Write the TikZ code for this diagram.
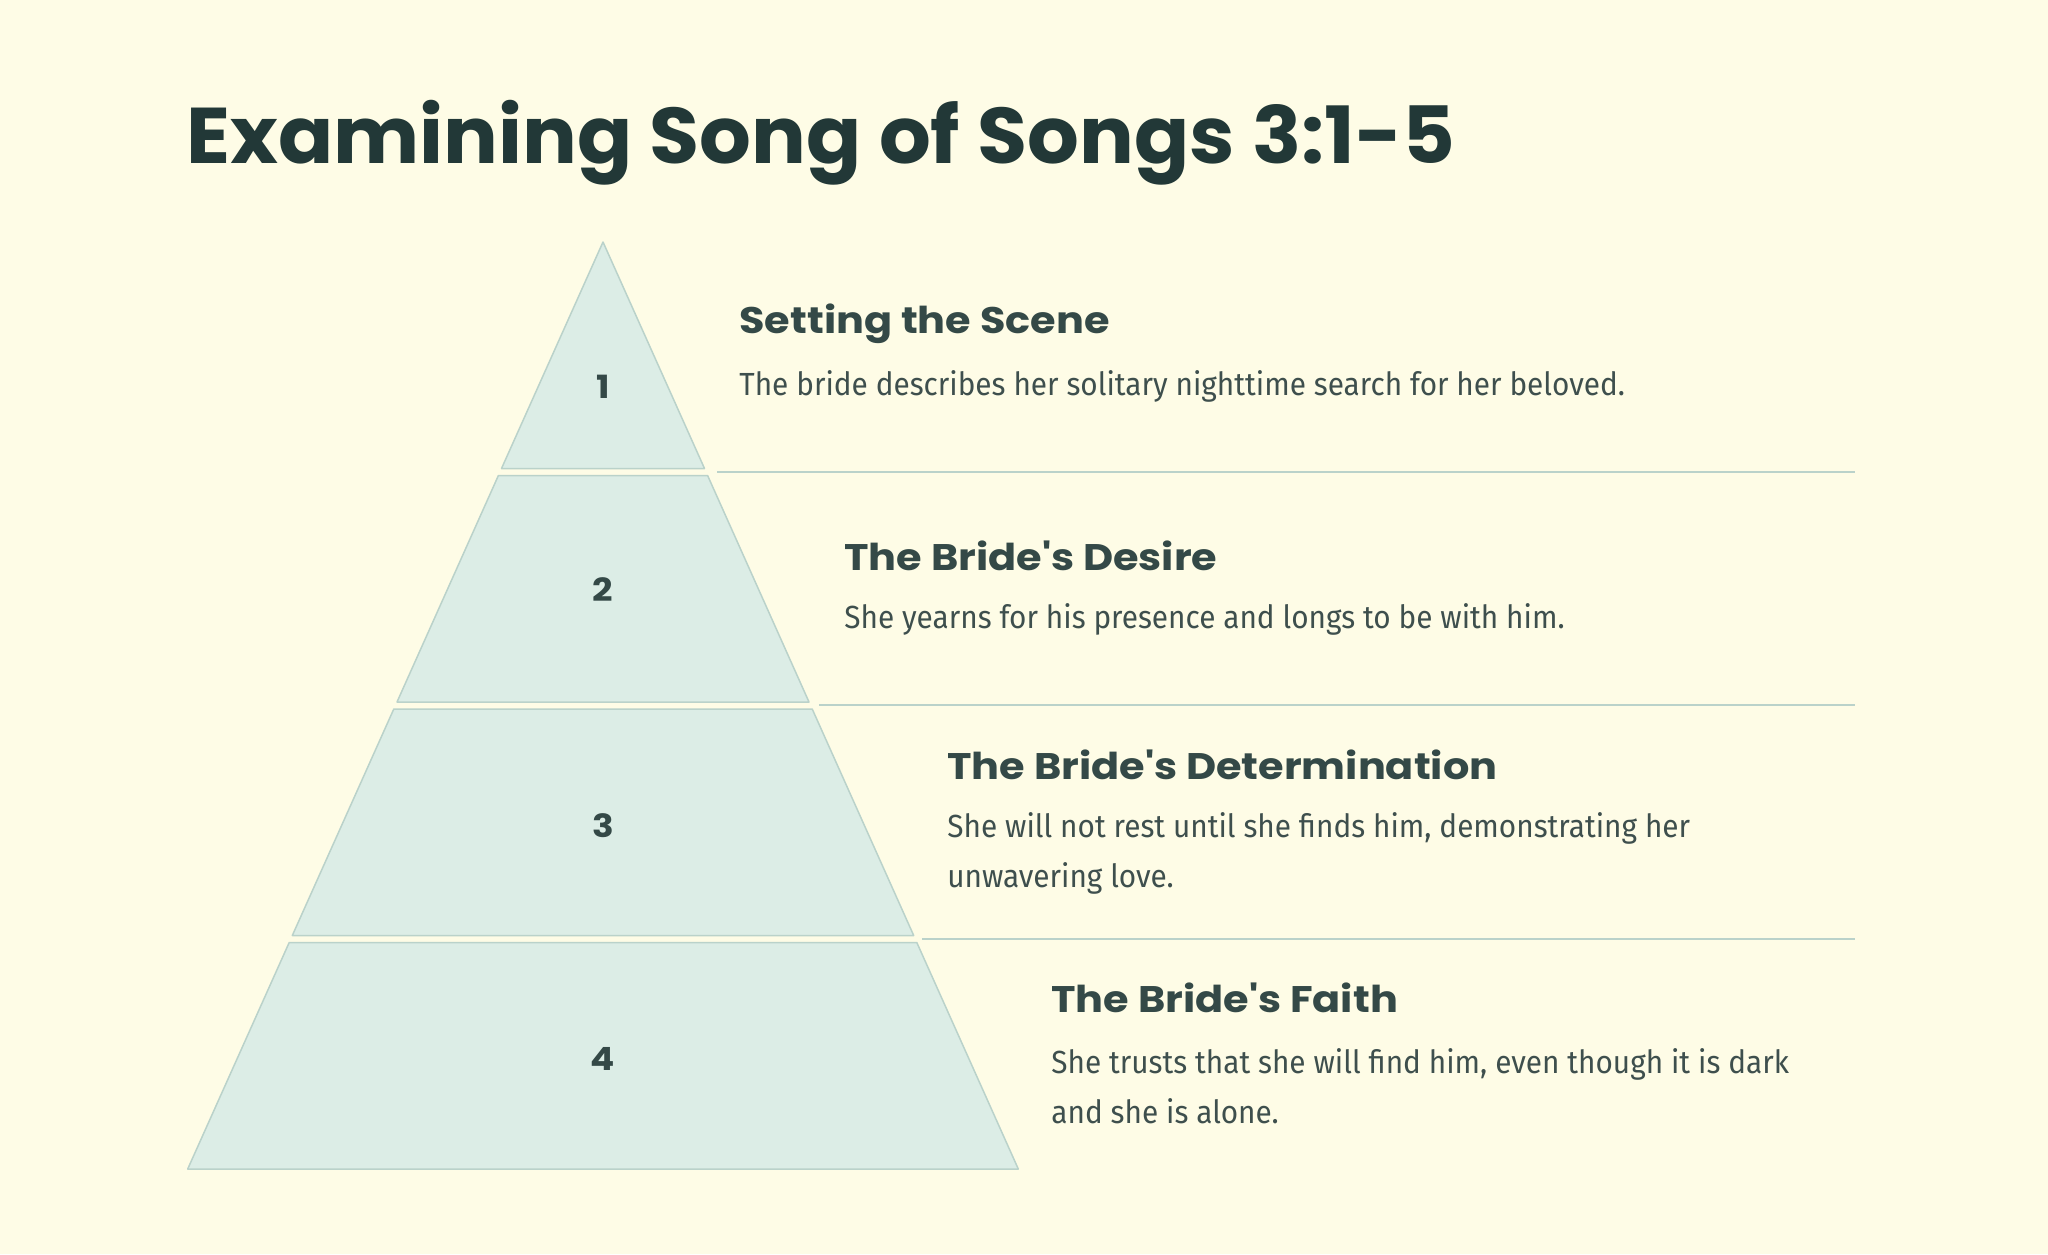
\documentclass[tikz,border=0pt]{standalone}
\usepackage{fontspec}
\usepackage{tikz}
\usetikzlibrary{positioning}
\newfontfamily\titlefont[FakeStretch=1.03]{Poppins}
\newfontfamily\headfont[FakeStretch=1.12]{Poppins}
\newfontfamily\bodyfont[FakeStretch=0.93]{Fira Sans}
\definecolor{bgcream}{HTML}{FEFCE6}
\definecolor{layerfill}{HTML}{DCEDE6}
\definecolor{layerline}{HTML}{BAD2CA}
\definecolor{inkdark}{HTML}{223837}
\definecolor{inkhead}{HTML}{344947}
\definecolor{inkbody}{HTML}{3E4F4D}

\begin{document}
\begin{tikzpicture}
    [
      x=0.5pt, y=-0.5pt,
      layer/.style={fill=layerfill,draw=layerline,line width=0.75pt,line join=round},
      rule/.style={draw=layerline,line width=1pt},
      number/.style={font=\headfont\bfseries\fontsize{16}{18}\selectfont,text=inkhead,inner sep=0pt},
      heading/.style={anchor=west,font=\headfont\bfseries\fontsize{18.5}{22}\selectfont,text=inkhead,inner sep=0pt},
      body/.style={anchor=west,align=left,font=\bodyfont\fontsize{16}{25}\selectfont,text=inkbody,inner sep=0pt},
    ]

    \fill [bgcream] (0,0) rectangle (2048,1254);
    \useasboundingbox (0,0) rectangle (2048,1254);

    \node (title) [anchor=base west,inner sep=0pt,text=inkdark,
      font=\titlefont\bfseries\fontsize{39.5}{46}\selectfont] at (186,163) {Examining Song of Songs 3:1-5};

    % pyramid layers
    \path [layer] (603,242) -- (704.5,468.5) -- (501.5,468.5) -- cycle;
    \path [layer] (498.4,475.5) -- (707.6,475.5) -- (809,702) -- (397,702) -- cycle;
    \path [layer] (393.8,709) -- (812.2,709) -- (913.7,935.5) -- (292.3,935.5) -- cycle;
    \path [layer] (289.2,942.5) -- (916.8,942.5) -- (1018.3,1169) -- (187.7,1169) -- cycle;

    \node (num-1) [number] at (603,387) {1};
    \node (num-2) [number] at (603,590) {2};
    \node (num-3) [number] at (603,826) {3};
    \node (num-4) [number] at (603,1059) {4};

    % separators
    \coordinate (rule-1-a) at (717,471.5);
    \coordinate (rule-1-b) at (1855,471.5);
    \coordinate (rule-2-a) at (819,705);
    \coordinate (rule-2-b) at (1855,705);
    \coordinate (rule-3-a) at (922,939);
    \coordinate (rule-3-b) at (1855,939);
    \draw [rule] (rule-1-a) -- (rule-1-b);
    \draw [rule] (rule-2-a) -- (rule-2-b);
    \draw [rule] (rule-3-a) -- (rule-3-b);

    \node (head-1) [heading] at (739,324) {Setting the Scene};
    \node (text-1) [body] at (739,386) {The bride describes her solitary nighttime search for her beloved.};

    \node (head-2) [heading] at (844,556) {The Bride's Desire};
    \node (text-2) [body] at (844,619) {She yearns for his presence and longs to be with him.};

    \node (head-3) [heading] at (947,765) {The Bride's Determination};
    \node (text-3) [body] at (947,853) {She will not rest until she finds him, demonstrating her\\unwavering love.};

    \node (head-4) [heading] at (1051,998) {The Bride's Faith};
    \node (text-4) [body] at (1051,1086) {She trusts that she will find him, even though it is dark\\and she is alone.};

\end{tikzpicture}
\end{document}
